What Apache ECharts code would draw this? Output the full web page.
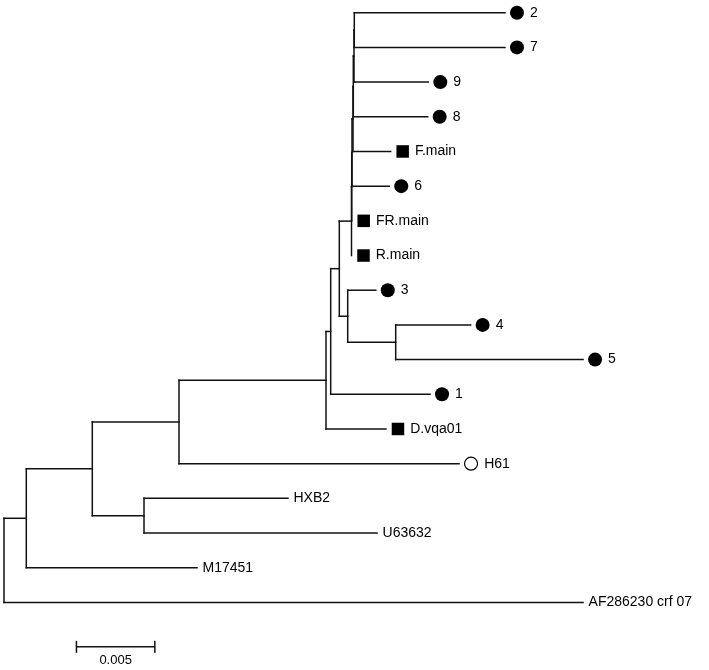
<!DOCTYPE html>
<html>
<head>
<meta charset="utf-8">
<script src="https://cdn.jsdelivr.net/npm/echarts@6/dist/echarts.min.js"></script>
<style>html,body{margin:0;padding:0;background:#fff;}#c{width:709px;height:670px;}</style>
</head>
<body>
<div id="c"></div>
<script>
// ---- data (branch positions in substitutions/site from root) ----
const leafNames = ['2','7','9','8','F.main','6','FR.main','R.main','3','4','5','1','D.vqa01','H61','HXB2','U63632','M17451','AF286230 crf 07'];
const leafDist  = [0.03195,0.03195,0.02706,0.02702,0.02466,0.02457,0.022175,0.022162,0.02371,0.02976,0.03693,0.02717,0.02436,0.02902,0.01811,0.02379,0.01231,0.03693];
const leafMark  = ['circle','circle','circle','circle','square','circle','square','square','circle','circle','circle','circle','square','open','none','none','none','none'];

const nodeNames = ['root','n26','n92','n144','n178','nA','nB','nC','nD','nE','nQ','P','P2','P3','P4','P5','P6'];
const nodeDist  = [0,0.001422,0.005631,0.008929,0.011161,0.020536,0.020835,0.021384,0.02192,0.024981,0.022162,0.022175,0.022194,0.022258,0.022277,0.022321,0.02234];
const nodeKids  = [
  ['n26','AF286230 crf 07'],
  ['n92','M17451'],
  ['n178','n144'],
  ['HXB2','U63632'],
  ['nA','H61'],
  ['nB','D.vqa01'],
  ['nC','1'],
  ['nQ','nD'],
  ['3','nE'],
  ['4','5'],
  ['P','R.main'],
  ['P2','FR.main'],
  ['P3','6'],
  ['P4','F.main'],
  ['P5','8'],
  ['P6','9'],
  ['2','7']
];
const scaleStart = 0.00462;
const scaleLength = 0.005;
const scaleLabel = '0.005';

// ---- build tree geometry ----
const dist = {}, yPos = {};
leafNames.forEach((n,i)=>{ dist[n]=leafDist[i]; yPos[n]=i; });
nodeNames.forEach((n,i)=>{ dist[n]=nodeDist[i]; });
const kidsOf = {}; nodeNames.forEach((n,i)=>{ kidsOf[n]=nodeKids[i]; });
function getY(n){
  if (yPos[n]!==undefined) return yPos[n];
  const k = kidsOf[n];
  const ys = k.map(getY);
  yPos[n] = (ys[0] + ys[ys.length-1]) / 2;
  return yPos[n];
}
getY('root');
const segs = [];
nodeNames.forEach(n=>{
  const k = kidsOf[n];
  const ys = k.map(c=>yPos[c]);
  segs.push([dist[n], Math.min(...ys), dist[n], Math.max(...ys)]);
  k.forEach(c=>{ segs.push([dist[n], yPos[c], dist[c], yPos[c]]); });
});

const markData = {circle:[], square:[], open:[], none:[]};
leafNames.forEach((n,i)=>{ markData[leafMark[i]].push([leafDist[i], i, n]); });

const SCALE_Y = 18.28;
const FONT = 'Liberation Sans, Arial, sans-serif';
const TXT = '#000';
const LINE = '#111';

function leafSeries(data, symbol, size, style, offset, dist) {
  return {
    type:'scatter', data, symbol, symbolSize:size,
    symbolOffset: [offset,0],
    itemStyle: Object.assign({opacity:1}, style), silent:true, clip:false, z:5,
    emphasis:{disabled:true},
    label:{show:true, position:'right', distance:dist, formatter:p=>p.data[2],
      color:TXT, fontSize:14, fontFamily:FONT}
  };
}

const chart = echarts.init(document.getElementById('c'), null, {renderer:'canvas'});
chart.setOption({
  animation:false,
  backgroundColor:'#fff',
  grid:{left:4, top:12.7, width:0.042*15680, height:18.6*34.69},
  xAxis:{type:'value', min:0, max:0.042, show:false},
  yAxis:{type:'value', min:0, max:18.6, inverse:true, show:false},
  series:[
    {
      type:'custom', clip:false, silent:true,
      data: segs,
      renderItem:(params, api)=>{
        const a = api.coord([api.value(0), api.value(1)]);
        const b = api.coord([api.value(2), api.value(3)]);
        return {type:'line', shape:{x1:a[0],y1:a[1],x2:b[0],y2:b[1]},
          style:{stroke:LINE, lineWidth:1.5, lineCap:'square'}};
      }
    },
    leafSeries(markData.circle, 'circle', 14, {color:'#000'}, 12, 6),
    leafSeries(markData.square, 'rect', 12.5, {color:'#000'}, 12, 6),
    leafSeries(markData.open, 'circle', 13, {color:'#fff', borderColor:'#000', borderWidth:1.2}, 12, 6),
    leafSeries(markData.none, 'circle', 1, {color:'rgba(0,0,0,0)'}, 0, 5),
    {
      type:'custom', clip:false, silent:true,
      data:[[scaleStart, SCALE_Y, scaleStart+scaleLength]],
      renderItem:(params, api)=>{
        const a = api.coord([api.value(0), api.value(1)]);
        const b = api.coord([api.value(2), api.value(1)]);
        const st = {stroke:LINE, lineWidth:1.5};
        return {type:'group', children:[
          {type:'line', shape:{x1:a[0],y1:a[1],x2:b[0],y2:b[1]}, style:st},
          {type:'line', shape:{x1:a[0],y1:a[1]-6,x2:a[0],y2:a[1]+6}, style:st},
          {type:'line', shape:{x1:b[0],y1:b[1]-6,x2:b[0],y2:b[1]+6}, style:st},
          {type:'text', x:(a[0]+b[0])/2, y:a[1]+14, style:{text:scaleLabel, fill:TXT,
            font:'13px '+FONT, align:'center', verticalAlign:'middle'}}
        ]};
      }
    }
  ]
});
</script>
</body>
</html>
